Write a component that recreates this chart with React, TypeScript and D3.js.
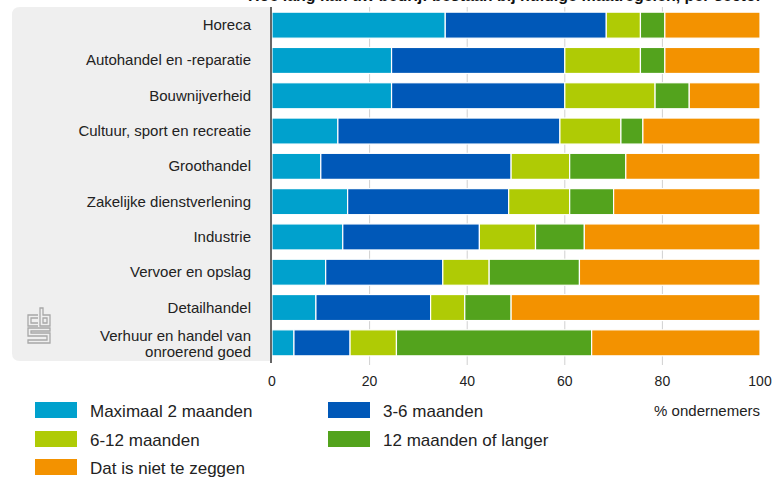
import React from "react";
import * as d3 from "d3";

const categories = [
  "Horeca",
  "Autohandel en -reparatie",
  "Bouwnijverheid",
  "Cultuur, sport en recreatie",
  "Groothandel",
  "Zakelijke dienstverlening",
  "Industrie",
  "Vervoer en opslag",
  "Detailhandel",
  "Verhuur en handel van|onroerend goed",
];

const seriesNames = [
  "Maximaal 2 maanden",
  "3-6 maanden",
  "6-12 maanden",
  "12 maanden of langer",
  "Dat is niet te zeggen",
];

const max2 = [35.5, 24.5, 24.5, 13.5, 10, 15.5, 14.5, 11, 9, 4.5];
const m3to6 = [33, 35.5, 35.5, 45.5, 39, 33, 28, 24, 23.5, 11.5];
const m6to12 = [7, 15.5, 18.5, 12.5, 12, 12.5, 11.5, 9.5, 7, 9.5];
const m12plus = [5, 5, 7, 4.5, 11.5, 9, 10, 18.5, 9.5, 40];
const unknown = [19.5, 19.5, 14.5, 24, 27.5, 30, 36, 37, 51, 34.5];

const colors = ["#00a1cd", "#0058b8", "#afcb05", "#53a31d", "#f39200"];
const xTicks = [0, 20, 40, 60, 80, 100];

const title = "Hoe lang kan uw bedrijf bestaan bij huidige maatregelen, per sector";

export default function App() {
  const W = 773;
  const H = 478;
  const x = d3.scaleLinear().domain([0, 100]).range([272, 760]);
  const y = d3
    .scaleBand<string>()
    .domain(categories)
    .range([7, 361])
    .paddingInner(0.263)
    .paddingOuter(0.146);

  const rows = categories.map((c, i) => ({
    key: c,
    v0: max2[i],
    v1: m3to6[i],
    v2: m6to12[i],
    v3: m12plus[i],
    v4: unknown[i],
  }));
  const keys = ["v0", "v1", "v2", "v3", "v4"];
  const stack = d3.stack<any>().keys(keys)(rows);

  const font = "'Liberation Sans', Arial, Helvetica, sans-serif";
  const bw = y.bandwidth();

  const legendPos = [
    [35, 402],
    [328, 402],
    [35, 431],
    [328, 431],
    [35, 459],
  ];

  return (
    <svg
      width={W}
      height={H}
      style={{ position: "absolute", left: 0, top: 0, background: "#fff" }}
      fontFamily={font}
    >
      {/* title, mostly cut off at top */}
      <text x={505} y={1} textAnchor="middle" fontSize={16} fontWeight="bold" fill="#111">
        {title}
      </text>
      {/* grey panel */}
      <path d="M20,7 H271 V361 H20 Q12,361 12,353 V15 Q12,7 20,7 Z" fill="#efefef" />
      {/* gridlines */}
      {xTicks.slice(1, 5).map((t) => (
        <line key={t} x1={x(t)} x2={x(t)} y1={7} y2={365} stroke="#d0d0d0" strokeWidth={1} />
      ))}
      {/* bars */}
      {stack.map((s, si) =>
        s.map((d: any, i: number) => (
          <rect
            key={si + "-" + i}
            x={x(d[0])}
            y={y(categories[i])!}
            width={Math.max(0, x(d[1]) - x(d[0]))}
            height={bw}
            fill={colors[si]}
            stroke="#fff"
            strokeWidth={1.2}
          />
        ))
      )}
      {/* axis line */}
      <line x1={271} x2={271} y1={7} y2={363} stroke="#666" strokeWidth={2} />
      {/* category labels */}
      {categories.map((c) => {
        const parts = c.split("|");
        const cy = y(c)! + bw / 2;
        if (parts.length === 1) {
          return (
            <text key={c} x={251} y={cy + 5} textAnchor="end" fontSize={15} fill="#222">
              {c}
            </text>
          );
        }
        return (
          <text key={c} x={251} textAnchor="end" fontSize={15} fill="#222">
            <tspan x={251} y={cy - 2}>{parts[0]}</tspan>
            <tspan x={251} y={cy + 14}>{parts[1]}</tspan>
          </text>
        );
      })}
      {/* x tick labels */}
      {xTicks.map((t) => (
        <text key={t} x={x(t)} y={386} textAnchor="middle" fontSize={14} fill="#222">
          {t}
        </text>
      ))}
      <text x={760} y={416} textAnchor="end" fontSize={15} fill="#222">
        % ondernemers
      </text>
      {/* legend */}
      {seriesNames.map((n, i) => (
        <g key={n}>
          <rect x={legendPos[i][0]} y={legendPos[i][1]} width={42} height={16} fill={colors[i]} />
          <text x={legendPos[i][0] + 55} y={legendPos[i][1] + 15} fontSize={17} fill="#222">
            {n}
          </text>
        </g>
      ))}
      {/* CBS logo */}
      <g fill="none" stroke="#a8a8a8" strokeWidth={1.3}>
        <path d="M38,315 H28 V326 H38 M38,318 H31 V323 H38" />
        <path d="M40,308 V326 H50 V315 H43 V308 Z M43,318 H47 V323 H43 Z" />
        <path d="M50,328 H28 V336 H47 V340 H28 V343 H50 V333 H31 V331 H50 Z" />
      </g>
    </svg>
  );
}
